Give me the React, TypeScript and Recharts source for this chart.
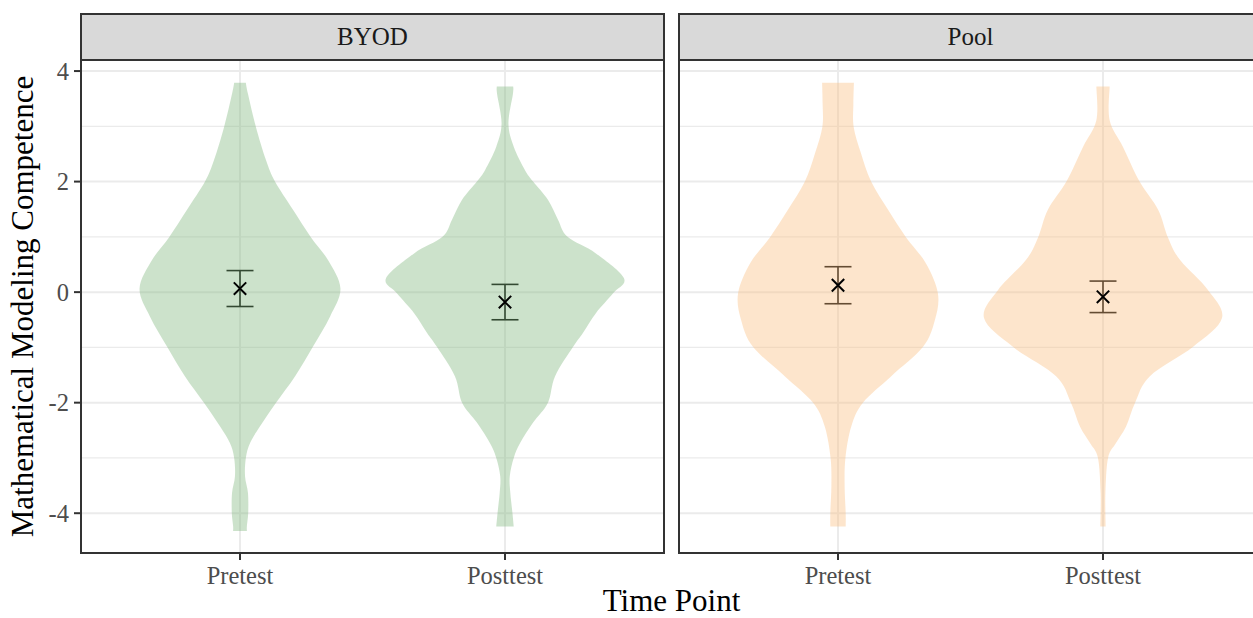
import React from 'react'
import { ComposedChart, Scatter, XAxis, YAxis, CartesianGrid, ErrorBar } from 'recharts'

// categories and facets
const TIME_POINTS = ['Pretest', 'Posttest']
const GROUPS = ['BYOD', 'Pool']

// violin outlines: value levels (top to bottom) and half-widths in category units
const byodPreY = [3.79, 3.59, 2.99, 2.39, 2.0, 1.49, 0.99, 0.58, 0.065, -0.44, -0.99, -1.52, -2.0, -2.43, -2.73, -3.0, -3.33, -3.63, -3.99, -4.23, -4.32]
const byodPreW = [0.022, 0.03, 0.06, 0.098, 0.132, 0.2, 0.268, 0.332, 0.379, 0.34, 0.275, 0.208, 0.136, 0.075, 0.038, 0.022, 0.019, 0.03, 0.031, 0.026, 0.026]

const byodPostY = [3.72, 3.59, 3.05, 2.63, 2.21, 2.0, 1.67, 1.31, 1.0, 0.7, 0.25, -0.02, -0.38, -0.74, -0.99, -1.52, -2.0, -2.36, -2.73, -3.0, -3.33, -3.63, -3.99, -4.24]
const byodPostW = [0.031, 0.03, 0.013, 0.033, 0.075, 0.106, 0.162, 0.2, 0.236, 0.343, 0.449, 0.408, 0.343, 0.294, 0.257, 0.189, 0.162, 0.106, 0.057, 0.033, 0.018, 0.02, 0.028, 0.033]

const poolPreY = [3.79, 3.4, 2.99, 2.51, 2.0, 1.49, 0.99, 0.52, -0.02, -0.5, -0.99, -1.52, -2.0, -2.43, -3.0, -3.51, -3.99, -4.24]
const poolPreW = [0.06, 0.058, 0.059, 0.087, 0.125, 0.189, 0.257, 0.332, 0.377, 0.366, 0.321, 0.201, 0.094, 0.05, 0.028, 0.025, 0.029, 0.029]

const poolPostY = [3.72, 3.11, 2.63, 2.0, 1.49, 0.99, 0.58, 0.04, -0.47, -0.99, -1.52, -2.0, -2.43, -2.73, -3.0, -3.63, -4.24]
const poolPostW = [0.025, 0.025, 0.075, 0.138, 0.208, 0.245, 0.291, 0.396, 0.449, 0.34, 0.177, 0.121, 0.087, 0.049, 0.019, 0.009, 0.01]

// means and standard errors per time point
const byodMean = [0.065, -0.18]
const byodSe = [0.325, 0.32]
const poolMean = [0.125, -0.085]
const poolSe = [0.335, 0.285]

const Y_TICKS = [-4, -2, 0, 2, 4]
const Y_MINOR = [-3, -1, 1, 3]
const Y_DOMAIN: [number, number] = [-4.72, 4.2]
const X_DOMAIN: [number, number] = [0.4, 2.6]

const GREEN = '#7FB77E'
const PEACH = '#FBBF80'
const FONT = '"Liberation Serif", "Times New Roman", serif'

const W = 1253
const H = 618
const PANEL_TOP = 60
const PANEL_BOTTOM = 553
const PANEL_W = 583
const P1_LEFT = 81
const P2_LEFT = 679
const STRIP_TOP = 14

type Pt = { x: number; y: number }

// right side bottom -> top, then left side top -> bottom
function outline(center: number, ys: number[], ws: number[]) {
  const right: Pt[] = []
  const left: Pt[] = []
  for (let i = ys.length - 1; i >= 0; i--) right.push({ x: center + ws[i], y: ys[i] })
  for (let i = 0; i < ys.length; i++) left.push({ x: center - ws[i], y: ys[i] })
  return [...right, ...left]
}

function smooth(pts: Pt[]) {
  let d = ''
  for (let i = 0; i < pts.length - 1; i++) {
    const p0 = pts[Math.max(i - 1, 0)]
    const p1 = pts[i]
    const p2 = pts[i + 1]
    const p3 = pts[Math.min(i + 2, pts.length - 1)]
    const c1x = p1.x + (p2.x - p0.x) / 6
    const c1y = p1.y + (p2.y - p0.y) / 6
    const c2x = p2.x - (p3.x - p1.x) / 6
    const c2y = p2.y - (p3.y - p1.y) / 6
    d += `C${c1x},${c1y} ${c2x},${c2y} ${p2.x},${p2.y}`
  }
  return d
}

function violinLine(color: string) {
  return (props: any) => {
    const pts: Pt[] = props.points || []
    if (pts.length < 4) return <g />
    const n = pts.length / 2
    const right = pts.slice(0, n)
    const left = pts.slice(n)
    const d = `M${right[0].x},${right[0].y}` + smooth(right) + `L${left[0].x},${left[0].y}` + smooth(left) + 'Z'
    return <path d={d} fill={color} fillOpacity={0.4} stroke="none" />
  }
}

const noShape = () => <g />

const meanShape = (props: any) => {
  const { cx, cy } = props
  const s = 6.2
  return (
    <path
      d={`M${cx - s},${cy - s}L${cx + s},${cy + s}M${cx - s},${cy + s}L${cx + s},${cy - s}`}
      stroke="#000"
      strokeWidth={2}
    />
  )
}

const tickStyle = { fill: '#4D4D4D', fontSize: 24.5, fontFamily: FONT }

function Panel({
  pre,
  post,
  means,
  ses,
  color,
  showY,
}: {
  pre: Pt[]
  post: Pt[]
  means: number[]
  ses: number[]
  color: string
  showY: boolean
}) {
  const meanData = means.map((m, i) => ({ x: i + 1, y: m, err: ses[i] }))
  return (
    <ComposedChart
      width={showY ? P1_LEFT + PANEL_W : PANEL_W}
      height={H}
      margin={{ top: PANEL_TOP, right: 0, bottom: 0, left: 0 }}
      style={{ fontFamily: FONT }}
    >
      <CartesianGrid horizontalValues={Y_MINOR} vertical={false} stroke="#EBEBEB" strokeWidth={1.2} />
      <CartesianGrid stroke="#EBEBEB" strokeWidth={2} />
      <XAxis
        type="number"
        dataKey="x"
        domain={X_DOMAIN}
        allowDataOverflow
        ticks={[1, 2]}
        interval={0}
        tickFormatter={(v) => TIME_POINTS[v - 1]}
        axisLine={false}
        tickLine={{ stroke: '#333333', strokeWidth: 2 }}
        tickSize={7}
        tickMargin={7}
        height={H - PANEL_BOTTOM}
        tick={tickStyle}
      />
      <YAxis
        type="number"
        dataKey="y"
        domain={Y_DOMAIN}
        allowDataOverflow
        ticks={Y_TICKS}
        interval={0}
        hide={!showY}
        axisLine={false}
        tickLine={{ stroke: '#333333', strokeWidth: 2 }}
        tickSize={7}
        tickMargin={5}
        width={P1_LEFT}
        tick={tickStyle}
        label={{
          value: 'Mathematical Modeling Competence',
          angle: -90,
          position: 'insideLeft',
          offset: 22,
          style: { textAnchor: 'middle', fontSize: 31, fill: '#000', fontFamily: FONT },
        }}
      />
      <Scatter data={pre} dataKey="y" shape={noShape} line={violinLine(color)} isAnimationActive={false} />
      <Scatter data={post} dataKey="y" shape={noShape} line={violinLine(color)} isAnimationActive={false} />
      <Scatter data={meanData} dataKey="y" shape={meanShape} isAnimationActive={false}>
        <ErrorBar dataKey="err" direction="y" width={13.5} stroke="#000" strokeWidth={1.6} isAnimationActive={false} />
      </Scatter>
    </ComposedChart>
  )
}

export default function App() {
  const lefts = [P1_LEFT, P2_LEFT]
  return (
    <div style={{ position: 'fixed', left: 0, top: 0, width: W, height: H, overflow: 'hidden', background: '#fff' }}>
      <div style={{ position: 'absolute', left: 0, top: 0 }}>
        <Panel
          pre={outline(1, byodPreY, byodPreW)}
          post={outline(2, byodPostY, byodPostW)}
          means={byodMean}
          ses={byodSe}
          color={GREEN}
          showY
        />
      </div>
      <div style={{ position: 'absolute', left: P2_LEFT, top: 0 }}>
        <Panel
          pre={outline(1, poolPreY, poolPreW)}
          post={outline(2, poolPostY, poolPostW)}
          means={poolMean}
          ses={poolSe}
          color={PEACH}
          showY={false}
        />
      </div>
      <svg
        width={W + 20}
        height={H}
        style={{ position: 'absolute', left: 0, top: 0, pointerEvents: 'none', fontFamily: FONT }}
      >
        {GROUPS.map((g, i) => (
          <g key={g}>
            <rect
              x={lefts[i]}
              y={STRIP_TOP}
              width={PANEL_W}
              height={PANEL_TOP - STRIP_TOP}
              fill="#D9D9D9"
              stroke="#333333"
              strokeWidth={2}
            />
            <text x={lefts[i] + PANEL_W / 2} y={45} textAnchor="middle" fontSize={25} fill="#1A1A1A">
              {g}
            </text>
            <rect
              x={lefts[i]}
              y={PANEL_TOP}
              width={PANEL_W}
              height={PANEL_BOTTOM - PANEL_TOP}
              fill="none"
              stroke="#333333"
              strokeWidth={2}
            />
          </g>
        ))}
        <text x={(P1_LEFT + P2_LEFT + PANEL_W) / 2} y={611} textAnchor="middle" fontSize={31} fill="#000">
          Time Point
        </text>
      </svg>
    </div>
  )
}
